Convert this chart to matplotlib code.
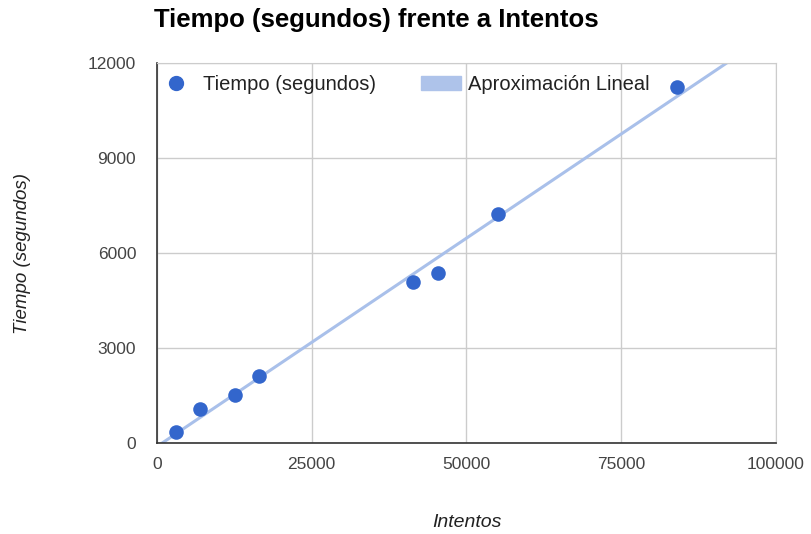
import numpy as np
import matplotlib.pyplot as plt
from matplotlib.patches import Patch
from matplotlib.lines import Line2D

plt.rcParams['font.family'] = ['Liberation Sans', 'DejaVu Sans']

intentos = [3070, 6950, 12600, 16480, 41360, 45400, 55090, 84000]
tiempo = [347, 1074, 1516, 2116, 5084, 5368, 7232, 11242]
x_ticks = [0, 25000, 50000, 75000, 100000]
y_ticks = [0, 3000, 6000, 9000, 12000]

fig = plt.figure(figsize=(8.12, 5.34), dpi=100)
ax = fig.add_axes([0.1933, 0.1704, 0.7624, 0.7116])

# linea de tendencia (ajuste por minimos cuadrados)
k, b = np.polyfit(intentos, tiempo, 1)
xl = np.array([0, 100000])
ax.plot(xl, k * xl + b, color='#a9c0ea', lw=2.2, zorder=2, solid_capstyle='butt')
ax.scatter(intentos, tiempo, s=110, color='#3366cc', zorder=3, linewidths=0)

ax.set_xlim(0, 100000)
ax.set_ylim(0, 12000)
ax.set_xticks(x_ticks)
ax.set_yticks(y_ticks)
ax.grid(True, color='#cccccc', lw=1)
ax.set_axisbelow(True)
for s in ['top', 'right']:
    ax.spines[s].set_color('#cccccc')
for s in ['bottom', 'left']:
    ax.spines[s].set_color('#333333')
    ax.spines[s].set_linewidth(1.2)
ax.tick_params(length=0, labelsize=12.5, labelcolor='#444444')
ax.tick_params(axis='x', pad=10)
ax.tick_params(axis='y', pad=15)

ax.set_xlabel('Intentos', fontsize=14, style='italic', color='#222222', labelpad=30)
ax.set_ylabel('Tiempo (segundos)', fontsize=13.5, style='italic', color='#222222', labelpad=41)
fig.text(0.19, 0.963, 'Tiempo (segundos) frente a Intentos', fontsize=18.5, fontweight='bold',
         ha='left', va='center')

handles = [Line2D([], [], marker='o', ls='', color='#3366cc', markersize=10),
           Patch(color='#aec3ea')]
ax.legend(handles, ['Tiempo (segundos)', 'Aproximación Lineal'], ncol=2, frameon=False,
          loc='upper left', bbox_to_anchor=(-0.031, 1.017), fontsize=14.5, labelcolor='#222222',
          columnspacing=2.2, handlelength=2.0, handletextpad=0.36)

fig.savefig('out.png')
